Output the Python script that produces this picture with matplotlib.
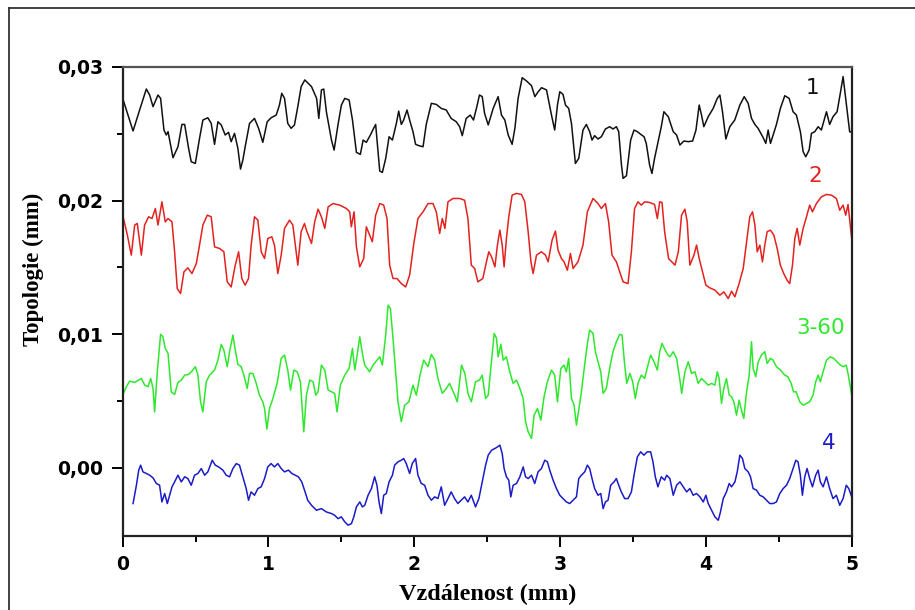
import matplotlib
matplotlib.use("Agg")
import matplotlib.pyplot as plt
from matplotlib.ticker import FixedLocator, FuncFormatter
from matplotlib.lines import Line2D

# profil 1 (cerna)
x1 = [0.0, 0.071, 0.116, 0.162, 0.185, 0.208, 0.242, 0.26, 0.283, 0.299, 0.311, 0.345, 0.379, 0.406,
      0.425, 0.452, 0.47, 0.498, 0.527, 0.55, 0.584, 0.607, 0.63, 0.653, 0.676, 0.703, 0.726, 0.744,
      0.767, 0.79, 0.808, 0.824, 0.84, 0.87, 0.904, 0.932, 0.961, 0.991, 1.018, 1.053, 1.075, 1.091,
      1.11, 1.132, 1.155, 1.178, 1.201, 1.224, 1.249, 1.295, 1.33, 1.345, 1.363, 1.379, 1.397, 1.432,
      1.45, 1.477, 1.5, 1.523, 1.553, 1.576, 1.603, 1.63, 1.649, 1.671, 1.699, 1.721, 1.735, 1.751,
      1.763, 1.781, 1.804, 1.827, 1.85, 1.877, 1.893, 1.911, 1.927, 1.95, 1.968, 1.991, 2.009, 2.032,
      2.06, 2.082, 2.117, 2.151, 2.185, 2.219, 2.253, 2.288, 2.311, 2.329, 2.356, 2.384, 2.406, 2.429,
      2.447, 2.466, 2.482, 2.507, 2.541, 2.575, 2.598, 2.621, 2.644, 2.671, 2.69, 2.712, 2.74, 2.77,
      2.804, 2.827, 2.85, 2.873, 2.907, 2.941, 2.963, 2.982, 2.998, 3.02, 3.037, 3.059, 3.078, 3.105,
      3.128, 3.157, 3.18, 3.203, 3.219, 3.237, 3.26, 3.283, 3.311, 3.34, 3.363, 3.386, 3.402, 3.421,
      3.432, 3.455, 3.484, 3.507, 3.53, 3.553, 3.576, 3.591, 3.614, 3.63, 3.648, 3.671, 3.694, 3.712,
      3.742, 3.776, 3.799, 3.822, 3.849, 3.879, 3.909, 3.932, 3.954, 3.97, 3.986, 4.016, 4.05, 4.078,
      4.096, 4.114, 4.137, 4.164, 4.198, 4.233, 4.263, 4.29, 4.313, 4.336, 4.358, 4.393, 4.411, 4.427,
      4.443, 4.461, 4.484, 4.511, 4.541, 4.571, 4.598, 4.621, 4.648, 4.667, 4.685, 4.708, 4.724, 4.747,
      4.77, 4.792, 4.827, 4.849, 4.872, 4.9, 4.922, 4.941, 4.959, 4.986, 5.0]
y1 = [0.02765, 0.02521, 0.02678, 0.02835, 0.0279, 0.02703, 0.0279, 0.02765, 0.02528, 0.02491, 0.02516,
      0.02321, 0.02403, 0.0257, 0.0257, 0.02391, 0.02291, 0.02278, 0.02466, 0.02603, 0.0262, 0.02578,
      0.02421, 0.0259, 0.02566, 0.02491, 0.02511, 0.02441, 0.02503, 0.02391, 0.02236, 0.02303, 0.02403,
      0.02578, 0.02615, 0.02541, 0.02436, 0.0259, 0.0262, 0.0264, 0.02715, 0.02803, 0.02765, 0.02578,
      0.02541, 0.02566, 0.02703, 0.02853, 0.02903, 0.02853, 0.02765, 0.02615, 0.02828, 0.02835, 0.02665,
      0.02453, 0.02378, 0.0257, 0.02715, 0.02765, 0.02753, 0.02603, 0.02361, 0.02346, 0.02453, 0.02436,
      0.02491, 0.02541, 0.0257, 0.02366, 0.02221, 0.02211, 0.02316, 0.02478, 0.02453, 0.02578, 0.0267,
      0.0257, 0.02603, 0.02678, 0.02603, 0.02516, 0.02421, 0.02411, 0.02403, 0.0257, 0.02728, 0.0272,
      0.0269, 0.02678, 0.02615, 0.0259, 0.02553, 0.02486, 0.02615, 0.0264, 0.02603, 0.02703, 0.0279,
      0.02778, 0.02653, 0.02566, 0.0269, 0.02778, 0.0264, 0.02603, 0.02491, 0.02421, 0.02541, 0.02765,
      0.0292, 0.02895, 0.0286, 0.02778, 0.02815, 0.02845, 0.02828, 0.0264, 0.02528, 0.02715, 0.02815,
      0.02795, 0.02715, 0.0269, 0.02578, 0.02278, 0.02316, 0.02528, 0.0257, 0.02516, 0.02453, 0.02486,
      0.02461, 0.02478, 0.02536, 0.02553, 0.02536, 0.02553, 0.02516, 0.02266, 0.02166, 0.02186, 0.02453,
      0.02528, 0.02516, 0.02496, 0.02478, 0.02428, 0.02266, 0.02203, 0.02316, 0.02436, 0.02553, 0.02665,
      0.02628, 0.02516, 0.02491, 0.02416, 0.02446, 0.02441, 0.02446, 0.02528, 0.02715, 0.0264, 0.02553,
      0.02628, 0.0269, 0.02765, 0.0279, 0.02665, 0.02461, 0.02553, 0.02603, 0.02715, 0.02778, 0.02728,
      0.02615, 0.0257, 0.02541, 0.02471, 0.02428, 0.02528, 0.02428, 0.02491, 0.0257, 0.0269, 0.02785,
      0.02765, 0.02665, 0.0264, 0.02516, 0.02366, 0.02328, 0.02378, 0.02503, 0.02516, 0.02553, 0.02528,
      0.02665, 0.0257, 0.02628, 0.02665, 0.02803, 0.02928, 0.02765, 0.02516, 0.0251]

# profil 2 (cervena)
x2 = [0.0, 0.032, 0.059, 0.082, 0.1, 0.128, 0.15, 0.178, 0.201, 0.224, 0.242, 0.269, 0.292, 0.311,
      0.338, 0.356, 0.374, 0.397, 0.42, 0.447, 0.475, 0.505, 0.527, 0.55, 0.58, 0.607, 0.63, 0.664,
      0.694, 0.717, 0.744, 0.772, 0.795, 0.817, 0.84, 0.863, 0.881, 0.904, 0.927, 0.95, 0.973, 0.995,
      1.023, 1.041, 1.064, 1.087, 1.11, 1.144, 1.167, 1.201, 1.224, 1.247, 1.26, 1.295, 1.317, 1.34,
      1.363, 1.386, 1.409, 1.443, 1.489, 1.534, 1.557, 1.568, 1.587, 1.603, 1.626, 1.653, 1.671, 1.694,
      1.712, 1.735, 1.763, 1.79, 1.813, 1.831, 1.854, 1.881, 1.911, 1.941, 1.968, 1.995, 2.025, 2.06,
      2.094, 2.128, 2.151, 2.174, 2.192, 2.21, 2.231, 2.265, 2.311, 2.345, 2.368, 2.391, 2.414, 2.436,
      2.47, 2.495, 2.511, 2.53, 2.553, 2.57, 2.587, 2.603, 2.616, 2.632, 2.648, 2.671, 2.701, 2.735,
      2.758, 2.781, 2.8, 2.815, 2.838, 2.872, 2.9, 2.918, 2.945, 2.968, 2.986, 3.009, 3.027, 3.05,
      3.071, 3.089, 3.123, 3.157, 3.187, 3.226, 3.26, 3.283, 3.311, 3.333, 3.356, 3.386, 3.409, 3.432,
      3.466, 3.489, 3.511, 3.534, 3.557, 3.58, 3.614, 3.648, 3.667, 3.683, 3.699, 3.717, 3.744, 3.788,
      3.811, 3.833, 3.856, 3.872, 3.89, 3.918, 3.936, 3.954, 3.977, 4.0, 4.027, 4.062, 4.096, 4.123,
      4.153, 4.176, 4.199, 4.228, 4.256, 4.279, 4.301, 4.32, 4.336, 4.352, 4.37, 4.388, 4.404, 4.42,
      4.443, 4.466, 4.489, 4.511, 4.534, 4.557, 4.575, 4.594, 4.61, 4.626, 4.644, 4.667, 4.69, 4.712,
      4.731, 4.758, 4.792, 4.827, 4.861, 4.895, 4.918, 4.941, 4.959, 4.975, 5.0]
y2 = [0.01891, 0.01742, 0.01592, 0.01817, 0.01829, 0.01592, 0.01817, 0.01879, 0.01866, 0.01941, 0.01817,
      0.01991, 0.01841, 0.01866, 0.01841, 0.01617, 0.01342, 0.01305, 0.01467, 0.01497, 0.01454, 0.01529,
      0.01667, 0.01817, 0.01891, 0.01879, 0.01654, 0.01642, 0.01617, 0.01392, 0.01354, 0.01517, 0.01617,
      0.01417, 0.01367, 0.01417, 0.01667, 0.01879, 0.01854, 0.01617, 0.01567, 0.01717, 0.01729, 0.01667,
      0.01454, 0.01592, 0.01792, 0.01854, 0.01817, 0.01517, 0.01767, 0.01829, 0.01779, 0.01679, 0.01841,
      0.01936, 0.01879, 0.01792, 0.01953, 0.01978, 0.01966, 0.01941, 0.01916, 0.01804, 0.01916, 0.01654,
      0.01504, 0.01567, 0.01804, 0.01742, 0.01692, 0.01891, 0.01978, 0.01966, 0.01866, 0.01517, 0.01417,
      0.01417, 0.01379, 0.01354, 0.01442, 0.01667, 0.01866, 0.01916, 0.01978, 0.01978, 0.01916, 0.01754,
      0.01866, 0.01792, 0.01991, 0.02016, 0.02016, 0.02003, 0.01866, 0.01517, 0.01492, 0.01392, 0.01417,
      0.01542, 0.01617, 0.01579, 0.01504, 0.01667, 0.01779, 0.01667, 0.01504, 0.01717, 0.01879, 0.02041,
      0.02054, 0.02046, 0.01991, 0.01767, 0.01542, 0.01454, 0.01592, 0.01617, 0.01592, 0.01542, 0.01704,
      0.01772, 0.01629, 0.01567, 0.01542, 0.01479, 0.01604, 0.01492, 0.01542, 0.01667, 0.01916, 0.02016,
      0.01978, 0.01941, 0.01978, 0.01841, 0.01592, 0.01542, 0.01467, 0.01392, 0.01379, 0.01617, 0.01941,
      0.01991, 0.01966, 0.01991, 0.01986, 0.01971, 0.01866, 0.01991, 0.01986, 0.01767, 0.01567, 0.01517,
      0.01617, 0.01891, 0.01936, 0.01841, 0.01517, 0.01592, 0.01667, 0.01567, 0.01467, 0.01367, 0.01347,
      0.0133, 0.01292, 0.01317, 0.01267, 0.01322, 0.0128, 0.0138, 0.01492, 0.01692, 0.01879, 0.01916,
      0.01817, 0.01617, 0.01667, 0.01542, 0.01667, 0.01767, 0.01779, 0.01742, 0.01642, 0.01517, 0.01454,
      0.01404, 0.01379, 0.01517, 0.01717, 0.01792, 0.01667, 0.01792, 0.01879, 0.01966, 0.01916, 0.01978,
      0.02028, 0.02046, 0.02041, 0.02016, 0.01928, 0.01966, 0.01891, 0.01971, 0.01717]

# profil 3-60 (zelena)
x3 = [0.0, 0.025, 0.048, 0.082, 0.11, 0.128, 0.151, 0.174, 0.192, 0.208, 0.219, 0.237, 0.26, 0.276,
      0.292, 0.311, 0.333, 0.356, 0.379, 0.402, 0.425, 0.452, 0.475, 0.498, 0.516, 0.534, 0.55, 0.573,
      0.596, 0.63, 0.653, 0.676, 0.694, 0.717, 0.733, 0.756, 0.772, 0.79, 0.813, 0.831, 0.854, 0.87,
      0.893, 0.916, 0.938, 0.961, 0.973, 0.989, 1.007, 1.03, 1.059, 1.087, 1.11, 1.132, 1.151, 1.174,
      1.197, 1.219, 1.242, 1.26, 1.283, 1.306, 1.324, 1.34, 1.363, 1.386, 1.409, 1.432, 1.454, 1.47,
      1.493, 1.523, 1.553, 1.576, 1.592, 1.608, 1.626, 1.644, 1.66, 1.694, 1.717, 1.744, 1.763, 1.781,
      1.804, 1.82, 1.836, 1.854, 1.872, 1.888, 1.911, 1.934, 1.963, 1.991, 2.014, 2.037, 2.064, 2.094,
      2.117, 2.14, 2.162, 2.192, 2.219, 2.242, 2.272, 2.295, 2.324, 2.347, 2.368, 2.391, 2.42, 2.447,
      2.466, 2.489, 2.507, 2.525, 2.548, 2.564, 2.575, 2.594, 2.61, 2.632, 2.655, 2.678, 2.701, 2.724,
      2.747, 2.763, 2.781, 2.804, 2.822, 2.845, 2.868, 2.89, 2.913, 2.941, 2.963, 2.982, 3.005, 3.027,
      3.043, 3.059, 3.078, 3.096, 3.112, 3.128, 3.146, 3.171, 3.189, 3.203, 3.226, 3.242, 3.26, 3.279,
      3.295, 3.317, 3.34, 3.363, 3.386, 3.409, 3.425, 3.441, 3.457, 3.479, 3.498, 3.516, 3.534, 3.557,
      3.58, 3.6, 3.621, 3.644, 3.667, 3.683, 3.699, 3.721, 3.74, 3.753, 3.776, 3.799, 3.822, 3.834,
      3.856, 3.879, 3.902, 3.925, 3.947, 3.97, 3.993, 4.016, 4.039, 4.062, 4.078, 4.091, 4.107, 4.123,
      4.141, 4.16, 4.176, 4.192, 4.21, 4.228, 4.244, 4.26, 4.279, 4.297, 4.313, 4.324, 4.342, 4.359,
      4.381, 4.404, 4.42, 4.443, 4.461, 4.484, 4.511, 4.541, 4.562, 4.585, 4.601, 4.619, 4.644, 4.667,
      4.69, 4.712, 4.735, 4.753, 4.77, 4.785, 4.804, 4.827, 4.854, 4.877, 4.9, 4.922, 4.945, 4.963,
      4.977, 5.0]
y3 = [0.00544, 0.00607, 0.00649, 0.00639, 0.00657, 0.00669, 0.00619, 0.00607, 0.00669, 0.00594, 0.00419,
      0.00719, 0.00999, 0.00981, 0.00894, 0.00856, 0.00569, 0.00549, 0.00639, 0.00657, 0.00694, 0.00699,
      0.00724, 0.00757, 0.00694, 0.00494, 0.00419, 0.00644, 0.00694, 0.00732, 0.00806, 0.00924, 0.00881,
      0.00757, 0.00869, 0.00994, 0.00881, 0.00774, 0.00757, 0.00694, 0.00594, 0.00707, 0.00707, 0.00632,
      0.00544, 0.00494, 0.00444, 0.0029, 0.00444, 0.00519, 0.00632, 0.00819, 0.00844, 0.00732, 0.00582,
      0.00732, 0.00719, 0.00644, 0.0027, 0.00544, 0.00657, 0.00644, 0.00544, 0.00569, 0.00769, 0.00732,
      0.00582, 0.00569, 0.00557, 0.00419, 0.00619, 0.00694, 0.00744, 0.00894, 0.00732, 0.00844, 0.00981,
      0.00856, 0.00769, 0.00719, 0.00769, 0.00806, 0.00831, 0.00769, 0.00994, 0.01218, 0.01193, 0.00969,
      0.00719, 0.00494, 0.00345, 0.00469, 0.00494, 0.00619, 0.00544, 0.00682, 0.00806, 0.00757, 0.00849,
      0.00806, 0.00669, 0.00557, 0.00594, 0.00632, 0.00557, 0.00494, 0.00769, 0.00707, 0.00557, 0.00494,
      0.00644, 0.00657, 0.00694, 0.00519, 0.00544, 0.00744, 0.01006, 0.00969, 0.00831, 0.00924, 0.00806,
      0.00831, 0.00719, 0.00632, 0.00657, 0.00594, 0.00519, 0.00345, 0.0027, 0.0022, 0.00394, 0.00444,
      0.00357, 0.00532, 0.00644, 0.00732, 0.00694, 0.00494, 0.00744, 0.00769, 0.00719, 0.00819, 0.00519,
      0.00469, 0.0032, 0.00432, 0.00569, 0.00794, 0.00944, 0.01031, 0.01006, 0.00869, 0.00794, 0.00719,
      0.00557, 0.00594, 0.00744, 0.00869, 0.00944, 0.00999, 0.00994, 0.00794, 0.00632, 0.00707, 0.00644,
      0.00519, 0.00632, 0.00694, 0.00669, 0.00757, 0.00844, 0.00794, 0.00732, 0.00869, 0.00931, 0.00881,
      0.00844, 0.00831, 0.00869, 0.00819, 0.00657, 0.00557, 0.00719, 0.00794, 0.00707, 0.00719, 0.00632,
      0.00669, 0.00644, 0.00619, 0.00632, 0.00619, 0.00719, 0.00669, 0.00482, 0.00594, 0.00669, 0.00544,
      0.00532, 0.00494, 0.00394, 0.00507, 0.00432, 0.0037, 0.00569, 0.00694, 0.00944, 0.00744, 0.00682,
      0.00794, 0.00844, 0.00869, 0.00781, 0.00819, 0.00806, 0.00757, 0.00732, 0.00694, 0.00682, 0.00632,
      0.00569, 0.00569, 0.00494, 0.00469, 0.00482, 0.00494, 0.00544, 0.00644, 0.00694, 0.00644, 0.00719,
      0.00806, 0.00831, 0.00819, 0.00794, 0.00769, 0.00757, 0.00769, 0.00694, 0.00544]

# profil 4 (modra)
x4 = [0.071, 0.094, 0.11, 0.123, 0.139, 0.162, 0.185, 0.208, 0.231, 0.253, 0.269, 0.288, 0.306, 0.322,
      0.338, 0.356, 0.379, 0.402, 0.425, 0.447, 0.47, 0.493, 0.516, 0.539, 0.562, 0.584, 0.614, 0.635,
      0.658, 0.687, 0.71, 0.733, 0.756, 0.779, 0.801, 0.824, 0.847, 0.863, 0.881, 0.904, 0.927, 0.95,
      0.973, 0.995, 1.018, 1.041, 1.064, 1.087, 1.11, 1.137, 1.16, 1.183, 1.205, 1.228, 1.251, 1.269,
      1.295, 1.329, 1.363, 1.397, 1.432, 1.454, 1.477, 1.5, 1.523, 1.546, 1.569, 1.585, 1.603, 1.626,
      1.644, 1.66, 1.683, 1.706, 1.728, 1.744, 1.758, 1.774, 1.79, 1.808, 1.827, 1.85, 1.865, 1.888,
      1.911, 1.927, 1.945, 1.968, 1.986, 2.009, 2.025, 2.048, 2.071, 2.094, 2.117, 2.14, 2.162, 2.185,
      2.208, 2.231, 2.253, 2.276, 2.299, 2.322, 2.345, 2.368, 2.391, 2.42, 2.443, 2.466, 2.489, 2.507,
      2.53, 2.553, 2.571, 2.587, 2.603, 2.616, 2.632, 2.648, 2.662, 2.678, 2.701, 2.724, 2.747, 2.763,
      2.781, 2.804, 2.826, 2.849, 2.872, 2.895, 2.913, 2.929, 2.952, 2.975, 2.998, 3.02, 3.043, 3.066,
      3.089, 3.112, 3.128, 3.146, 3.169, 3.187, 3.203, 3.219, 3.237, 3.26, 3.279, 3.295, 3.311, 3.329,
      3.347, 3.37, 3.386, 3.402, 3.42, 3.443, 3.466, 3.489, 3.507, 3.53, 3.553, 3.575, 3.598, 3.621,
      3.637, 3.653, 3.671, 3.694, 3.717, 3.731, 3.753, 3.776, 3.799, 3.822, 3.845, 3.868, 3.89, 3.913,
      3.936, 3.959, 3.982, 4.0, 4.016, 4.039, 4.062, 4.085, 4.1, 4.119, 4.141, 4.16, 4.176, 4.199,
      4.215, 4.233, 4.251, 4.267, 4.29, 4.306, 4.324, 4.347, 4.37, 4.393, 4.416, 4.438, 4.461, 4.484,
      4.507, 4.53, 4.553, 4.575, 4.598, 4.617, 4.632, 4.648, 4.662, 4.678, 4.694, 4.712, 4.731, 4.753,
      4.77, 4.785, 4.804, 4.827, 4.849, 4.872, 4.895, 4.918, 4.941, 4.963, 4.98, 5.0]
y4 = [-0.00267, -0.0013, -0.00017, 0.0002, -0.0003, -0.00042, -0.00055, -0.00075, -0.00117, -0.0013,
      -0.00255, -0.00192, -0.00267, -0.00205, -0.00142, -0.00105, -0.00055, -0.00105, -0.00067, -0.0008,
      -0.0013, -0.00055, -0.00042, -0.00005, -0.00055, -0.0003, 0.00057, 0.0002, 0.00007, -0.00017,
      -0.00055, -0.00067, -0.00005, 0.00032, 0.0002, -0.00067, -0.00155, -0.00242, -0.0018, -0.00205,
      -0.00155, -0.00142, -0.0008, 0.00007, 0.00032, 0.00007, 0.00032, -0.00005, -0.0003, -0.00017,
      -0.00042, -0.00055, -0.00067, -0.00105, -0.0018, -0.00242, -0.0028, -0.00317, -0.00305, -0.0033,
      -0.00342, -0.00355, -0.0038, -0.00367, -0.00404, -0.00429, -0.00417, -0.00367, -0.00292, -0.00255,
      -0.00292, -0.0028, -0.00205, -0.00155, -0.00067, -0.0013, -0.00255, -0.00342, -0.00205, -0.00192,
      -0.00105, -0.00055, 0.0002, 0.00045, 0.00057, 0.0007, 0.00032, -0.00042, 0.00032, 0.0007,
      -0.00055, -0.00117, -0.0013, -0.00205, -0.00242, -0.00217, -0.0023, -0.00142, -0.0028, -0.0023,
      -0.0018, -0.0023, -0.00267, -0.00242, -0.00217, -0.00255, -0.00205, -0.00292, -0.0023, -0.00105,
      0.0002, 0.00095, 0.00132, 0.00145, 0.00157, 0.0017, 0.00107, -0.00005, -0.00067, -0.00092,
      -0.00217, -0.0013, -0.00117, -0.00067, 0.00007, -0.00067, -0.0008, -0.00055, -0.00117, -0.0003,
      -0.00005, 0.00057, 0.00045, -0.00017, -0.00092, -0.00155, -0.00205, -0.0023, -0.00255, -0.00267,
      -0.00242, -0.00217, -0.0008, -0.00055, -0.0003, 0.0002, -0.00005, -0.0008, -0.00155, -0.00205,
      -0.00192, -0.00305, -0.00255, -0.00242, -0.0013, -0.00105, -0.0008, -0.0013, -0.0018, -0.0023,
      -0.0023, -0.0018, -0.00055, 0.00082, 0.0012, 0.00095, 0.0012, 0.0012, 0.00045, -0.00067, -0.00142,
      -0.00067, -0.00092, -0.00055, -0.0008, -0.00205, -0.0013, -0.00105, -0.00142, -0.0018, -0.00155,
      -0.00205, -0.00192, -0.00217, -0.00255, -0.00205, -0.00267, -0.00317, -0.00367, -0.00392, -0.0033,
      -0.0023, -0.0018, -0.00117, -0.00142, -0.00105, -0.0003, 0.00095, 0.0007, -0.00005, -0.0003,
      -0.00067, -0.00155, -0.00167, -0.00205, -0.00217, -0.00242, -0.00267, -0.00267, -0.00255, -0.00192,
      -0.00155, -0.0013, -0.0008, -0.00005, 0.00057, 0.00045, -0.00055, -0.00205, -0.00067, -0.00005,
      -0.0008, -0.00142, -0.00055, -0.00017, -0.00105, -0.00142, -0.00067, -0.00155, -0.0023, -0.00205,
      -0.0028, -0.0023, -0.0013, -0.00155, -0.00217]

names = ["1", "2", "3-60", "4"]
colors = ["#111111", "#e3221f", "#2ee82e", "#1b1bc8"]
label_pos = [(4.728, 0.02843), (4.748, 0.02183), (4.79, 0.01045), (4.845, 0.00184)]

fig = plt.figure(figsize=(9.15, 6.1), dpi=100)
ax = fig.add_axes([0.1341, 0.1213, 0.7967, 0.7689])

for xs, ys, c in zip([x1, x2, x3, x4], [y1, y2, y3, y4], colors):
    ax.plot(xs, ys, color=c, lw=1.1)

for n, c, (lx, ly) in zip(names, colors, label_pos):
    ax.text(lx, ly, n, color=c, fontsize=15.5, family="DejaVu Sans", ha="center", va="center")

ax.set_xlim(0, 5)
ax.set_ylim(-0.0051, 0.03)
ax.xaxis.set_major_locator(FixedLocator([0, 1, 2, 3, 4, 5]))
ax.xaxis.set_minor_locator(FixedLocator([0.5, 1.5, 2.5, 3.5, 4.5]))
ax.yaxis.set_major_locator(FixedLocator([0.0, 0.01, 0.02, 0.03]))
ax.yaxis.set_minor_locator(FixedLocator([0.005, 0.015, 0.025]))
ax.yaxis.set_major_formatter(FuncFormatter(lambda v, p: f"{abs(v):.2f}".replace(".", ",")))

ax.tick_params(which="major", direction="out", length=8, width=1.4, pad=6, top=False, right=False)
ax.tick_params(which="minor", direction="out", length=4.5, width=1.4, top=False, right=False)
for lab in ax.get_xticklabels() + ax.get_yticklabels():
    lab.set_family("DejaVu Sans")
    lab.set_fontweight("bold")
    lab.set_fontsize(13.5)
for s in ax.spines.values():
    s.set_linewidth(1.6)
    s.set_color("#222222")
ax.spines["top"].set_color("#555555")

ax.set_xlabel("Vzdálenost (mm)", family="Liberation Serif", fontweight="bold", fontsize=17.5)
ax.set_ylabel("Topologie (mm)", family="Liberation Serif", fontweight="bold", fontsize=16.5)
ax.xaxis.set_label_coords(0.5, -0.103)
ax.yaxis.set_label_coords(-0.108, 0.569)

# ramecek kolem obrazku
fig.add_artist(Line2D([9 / 915, 9 / 915], [0, 1 - 8 / 610], color="#333333", lw=1.3))
fig.add_artist(Line2D([9 / 915, 1], [1 - 8 / 610, 1 - 8 / 610], color="#333333", lw=1.3))

fig.savefig("out.png", dpi=100, facecolor="white")
